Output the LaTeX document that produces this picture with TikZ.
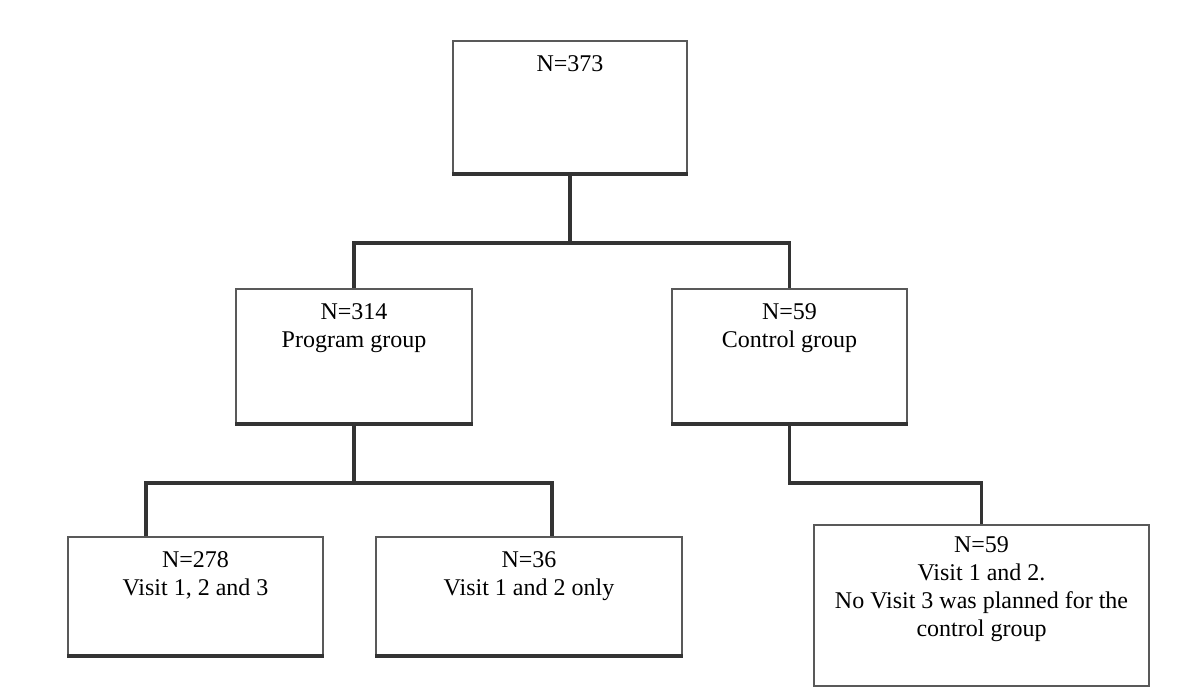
\documentclass[tikz,border=0pt]{standalone}
\usepackage{fontspec}
\setmainfont{Liberation Serif}
\begin{document}
\begin{tikzpicture}[x=0.5pt,y=-0.5pt,
  box/.style={draw=black!65, line width=1pt, fill=white, inner sep=0pt},
  bottomedge/.style={draw=black!80, line width=2pt},
  conn/.style={draw=black!80, line width=1.6pt},
  txt/.style={anchor=north, inner sep=0pt, align=center, text=black, font=\fontsize{12}{14}\selectfont}]
\useasboundingbox[fill=white] (0,0) rectangle (1200,693);

% boxes
\node[box, minimum width=117pt, minimum height=66pt] (top) at (570,107) {};
\node[box, minimum width=118pt, minimum height=67pt] (prog) at (354,356) {};
\node[box, minimum width=117.5pt, minimum height=67pt] (ctrl) at (789.5,356) {};
\node[box, minimum width=127.5pt, minimum height=59pt] (left) at (195.5,596) {};
\node[box, minimum width=153pt, minimum height=59pt] (mid) at (529,596) {};
\node[box, minimum width=167.5pt, minimum height=80.5pt] (right) at (981.5,605.5) {};

% thicker bottom edges
\foreach \b in {top,prog,ctrl,left,mid}
  \draw[bottomedge] (\b.south west) -- (\b.south east);

% texts
\node[txt] (ttop) at ([yshift=-7.5pt]top.north) {N=373};
\node[txt] (tprog) at ([yshift=-7.5pt]prog.north) {N=314\\Program group};
\node[txt] (tctrl) at ([yshift=-7.5pt]ctrl.north) {N=59\\Control group};
\node[txt] (tleft) at ([yshift=-7.5pt]left.north) {N=278\\Visit 1, 2 and 3};
\node[txt] (tmid) at ([yshift=-7.5pt]mid.north) {N=36\\Visit 1 and 2 only};
\node[txt] (tright) at ([yshift=-6.2pt]right.north) {N=59\\Visit 1 and 2.\\No Visit 3 was planned for the\\control group};

% junction points
\coordinate (jt) at (570,243);
\coordinate (jp) at (354,483);
\coordinate (jl) at (146,483);
\coordinate (jm) at (552,483);
\coordinate (jc) at (790,483);

% connectors
\draw[conn] (top.south) -- (jt);
\draw[conn] (prog.north) -- (prog.north |- jt) -- (ctrl.north |- jt) -- (ctrl.north);
\draw[conn] (prog.south) -- (jp);
\draw[conn] (left.north -| jl) -- (jl) -- (jm) -- (mid.north -| jm);
\draw[conn] (ctrl.south) -- (ctrl.south |- jc) -- (right.north |- jc) -- (right.north);
\end{tikzpicture}
\end{document}
